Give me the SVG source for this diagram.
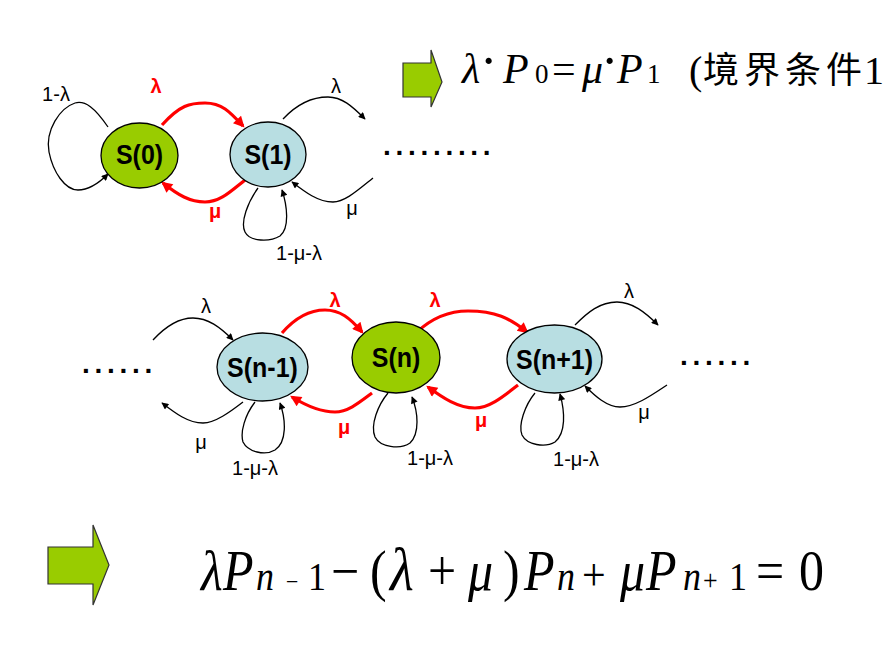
<svg xmlns="http://www.w3.org/2000/svg" width="885" height="654" viewBox="0 0 885 654">
<defs>
<style>
.nd{stroke:#000;stroke-width:1.3}
.g{fill:#99cc00}
.b{fill:#b8dee2}
.nt{font-family:"Liberation Sans",Arial,sans-serif;font-weight:bold;font-size:25px;text-anchor:middle;fill:#000}
.lb{font-family:"Liberation Sans",Arial,sans-serif;font-size:20px;text-anchor:middle;fill:#000}
.rl{font-family:"Liberation Sans",Arial,sans-serif;font-size:20px;font-weight:bold;text-anchor:middle;fill:#ff0000}
.dots{font-family:"Liberation Sans",Arial,sans-serif;font-weight:bold;font-size:28px;fill:#000;letter-spacing:4.7px}
.k{fill:none;stroke:#000;stroke-width:1.3}
.r{fill:none;stroke:#ff0000;stroke-width:3.2}
.m{font-family:"Liberation Serif","Times New Roman","DejaVu Serif",serif;fill:#000}
.i{font-style:italic}
.arr{fill:#99cc00;stroke:#333;stroke-width:1.2}
</style>
<marker id="ak" viewBox="0 0 10 10" refX="9" refY="5" markerWidth="9" markerHeight="7" orient="auto" markerUnits="userSpaceOnUse"><path d="M0,0 L10,5 L0,10 z" fill="#000"/></marker>
<marker id="ar" viewBox="0 0 10 10" refX="8" refY="5" markerWidth="14" markerHeight="11" orient="auto" markerUnits="userSpaceOnUse"><path d="M0,0 L10,5 L0,10 z" fill="#ff0000"/></marker>
</defs>
<rect width="885" height="654" fill="#fff"/>

<g id="connectors">
<path class="r" d="M162,125 C180,105 190,103 205,103 C222,103 230,112 243,126" marker-end="url(#ar)"/>
<path class="r" d="M245,180 C230,192 220,202 205,202 C190,202 178,195 163,183" marker-end="url(#ar)"/>
<path class="k" d="M108,127 C95,108 85,100 75,103 C60,108 45,130 49,152 C53,172 65,190 78,190 C90,190 100,182 108,174" marker-end="url(#ak)"/>
<path class="k" d="M283,119 C298,103 312,97 328,97 C342,97 352,106 365,119" marker-end="url(#ak)"/>
<path class="k" d="M373,178 C358,190 345,202 333,202 C318,202 305,192 292,182" marker-end="url(#ak)"/>
<path class="k" d="M258,188 C248,202 240,222 245,232 C250,242 270,242 280,236 C290,228 287,205 282,190" marker-end="url(#ak)"/>

<path class="r" d="M282,333 C295,318 310,310 325,310 C340,310 350,318 362,332" marker-end="url(#ar)"/>
<path class="r" d="M417,332 C432,318 450,311 468,311 C495,311 510,318 527,332" marker-end="url(#ar)"/>
<path class="r" d="M372,393 C360,402 348,412 335,412 C320,412 305,405 292,397" marker-end="url(#ar)"/>
<path class="r" d="M518,385 C505,395 490,408 475,408 C458,408 443,398 428,387" marker-end="url(#ar)"/>

<path class="k" d="M153,340 C165,327 178,318 193,318 C208,318 220,327 233,340" marker-end="url(#ak)"/>
<path class="k" d="M243,402 C230,412 215,423 203,423 C188,423 175,413 162,403" marker-end="url(#ak)"/>
<path class="k" d="M255,402 C245,415 240,432 243,442 C248,452 265,456 275,450 C287,442 286,420 280,403" marker-end="url(#ak)"/>
<path class="k" d="M388,393 C378,405 370,425 375,437 C380,447 400,450 410,443 C420,433 418,412 412,397" marker-end="url(#ak)"/>
<path class="k" d="M575,325 C588,312 600,302 617,302 C632,302 645,312 658,325" marker-end="url(#ak)"/>
<path class="k" d="M667,385 C652,395 635,407 620,407 C607,407 595,396 585,386" marker-end="url(#ak)"/>
<path class="k" d="M535,393 C525,405 518,425 522,435 C527,445 545,448 555,442 C566,433 565,412 560,394" marker-end="url(#ak)"/>

<text class="lb" x="56" y="101">1-λ</text>
<text class="rl" x="156" y="93">λ</text>
<text class="rl" x="215" y="218">μ</text>
<text class="lb" x="336" y="93">λ</text>
<text class="lb" x="352" y="215">μ</text>
<text class="lb" x="299" y="260">1-μ-λ</text>

<text class="rl" x="335" y="307">λ</text>
<text class="rl" x="435" y="307">λ</text>
<text class="rl" x="344" y="434">μ</text>
<text class="rl" x="481" y="427">μ</text>
<text class="lb" x="206" y="313">λ</text>
<text class="lb" x="201" y="449">μ</text>
<text class="lb" x="255" y="475">1-μ-λ</text>
<text class="lb" x="430" y="465">1-μ-λ</text>
<text class="lb" x="629" y="298">λ</text>
<text class="lb" x="644" y="419">μ</text>
<text class="lb" x="576" y="466">1-μ-λ</text>
</g>

<g id="S0"><ellipse class="nd g" cx="139.5" cy="155.5" rx="38.5" ry="32.5"/><text class="nt" transform="translate(139.5,164) scale(1,1.12)">S(0)</text></g>
<g id="S1"><ellipse class="nd b" cx="268" cy="154.5" rx="38" ry="32.5"/><text class="nt" transform="translate(268,164) scale(1,1.12)">S(1)</text></g>
<g id="Snm1"><ellipse class="nd b" cx="262.5" cy="367" rx="45.5" ry="34"/><text class="nt" transform="translate(262.5,377) scale(1,1.12)">S(n-1)</text></g>
<g id="Sn"><ellipse class="nd g" cx="396" cy="357.5" rx="44" ry="35.5"/><text class="nt" transform="translate(396,367) scale(1,1.12)">S(n)</text></g>
<g id="Snp1"><ellipse class="nd b" cx="554.5" cy="359" rx="47.5" ry="34"/><text class="nt" transform="translate(554.5,369) scale(1,1.12)">S(n+1)</text></g>

<g id="dots">
<text class="dots" x="383" y="155">.........</text>
<text class="dots" x="82" y="373">......</text>
<text class="dots" x="680" y="365">......</text>
</g>

<g id="eq1">
<path class="arr" d="M403,63 L431,63 L431,50 L442,82 L431,107 L431,97 L403,97 Z"/>
<text class="m i" x="462" y="83" font-size="42">λ</text>
<text class="m" x="480" y="78" font-size="52">·</text>
<text class="m i" x="503" y="83" font-size="42">P</text>
<text class="m" x="535" y="83" font-size="27">0</text>
<text class="m" x="552" y="83" font-size="42">=</text>
<text class="m i" x="582" y="83" font-size="42">μ</text>
<text class="m" x="601" y="78" font-size="52">·</text>
<text class="m i" x="617" y="83" font-size="42">P</text>
<text class="m" x="647" y="83" font-size="27">1</text>
<text class="m" x="689" y="84" font-size="40">(</text>
<text x="703 744 785 826" y="83" font-size="36" font-family="'Noto Sans CJK SC','Noto Sans CJK JP',sans-serif" fill="#000">境界条件</text>
<text class="m" x="864" y="84" font-size="40">1</text>
</g>

<g id="eq2">
<path class="arr" d="M48,547 L93,547 L93,525 L109,565 L93,605 L93,584 L48,584 Z"/>
<g transform="translate(0,590) scale(1,1.12) translate(0,-590)">
<text class="m i" x="201" y="590" font-size="50">λ</text>
<text class="m i" x="223" y="590" font-size="50">P</text>
<text class="m i" x="256" y="590" font-size="36">n</text>
<text class="m" x="286" y="590" font-size="22">−</text>
<text class="m" x="308" y="590" font-size="36">1</text>
<text class="m" x="331" y="590" font-size="50">−</text>
<text class="m" x="370" y="590" font-size="50">(</text>
<text class="m i" x="390" y="590" font-size="55">λ</text>
<text class="m" x="428" y="590" font-size="50">+</text>
<text class="m i" x="468" y="590" font-size="50">μ</text>
<text class="m" x="503" y="590" font-size="50">)</text>
<text class="m i" x="524" y="590" font-size="50">P</text>
<text class="m i" x="557" y="590" font-size="36">n</text>
<text class="m" x="582" y="590" font-size="42">+</text>
<text class="m i" x="620" y="590" font-size="50">μ</text>
<text class="m i" x="646" y="590" font-size="50">P</text>
<text class="m i" x="683" y="590" font-size="36">n</text>
<text class="m" x="703" y="590" font-size="26">+</text>
<text class="m" x="729" y="590" font-size="36">1</text>
<text class="m" x="756" y="590" font-size="50">=</text>
<text class="m" x="799" y="590" font-size="50">0</text>
</g>
</g>
</svg>
